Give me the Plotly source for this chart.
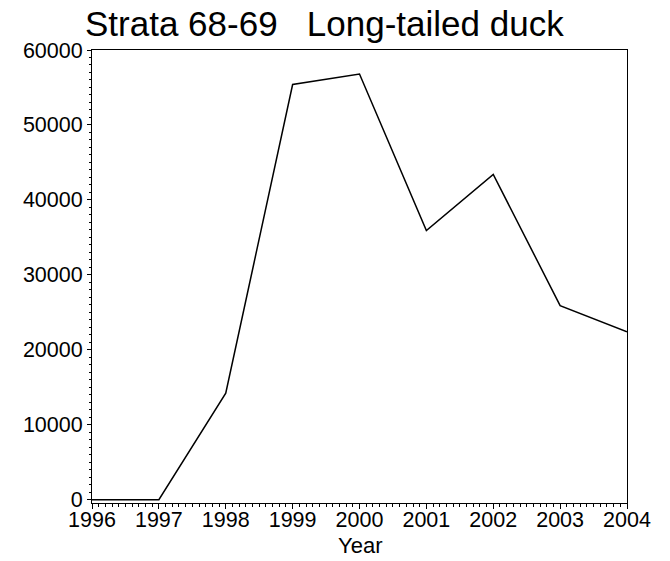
import plotly.graph_objects as go

years = [1996, 1997, 1998, 1999, 2000, 2001, 2002, 2003, 2004]
counts = [0, 0, 14200, 55400, 56800, 35900, 43400, 25900, 22400]
y_ticks = [0, 10000, 20000, 30000, 40000, 50000, 60000]

fig = go.Figure()
fig.add_trace(go.Scatter(x=years, y=counts, mode="lines",
                         line=dict(color="black", width=1.5), showlegend=False))

# The page body has an 8px default margin, so the figure is sized to end at the window edge.
W, H = 662, 553
font = "Liberation Sans, Arial, sans-serif"
ml, mr, mt, mb = 84, 43, 42, 58
fig.update_layout(
    width=W, height=H,
    margin=dict(l=ml, r=mr, t=mt, b=mb),
    paper_bgcolor="white", plot_bgcolor="white",
    font=dict(family=font, color="black", size=21.5),
    title=dict(text="Strata 68-69\u00a0\u00a0\u00a0Long-tailed duck",
               font=dict(size=35, family=font, color="black"),
               x=77 / W, xref="container", xanchor="left",
               y=1 - 3 / H, yref="container", yanchor="top"),
    annotations=[dict(text="Year", xref="paper", yref="paper", x=0.5,
                      y=-42 / (H - mt - mb),
                      xanchor="center", yanchor="middle", showarrow=False,
                      font=dict(size=22, family=font, color="black"))],
)
fig.update_xaxes(range=[1996, 2004], tickmode="array", tickvals=years,
                 ticktext=[str(y) for y in years],
                 showgrid=False, zeroline=False, showline=True, linecolor="black",
                 linewidth=1, mirror=True, ticks="outside", ticklen=5, tickwidth=1,
                 tickcolor="black", tickfont=dict(size=21.5), ticklabelstandoff=-8,
                 minor=dict(dtick=0.1, tick0=1996, ticks="outside", ticklen=3, tickcolor="black"))
fig.update_yaxes(range=[-440, 60000], tickmode="array", tickvals=y_ticks,
                 ticktext=[str(v) for v in y_ticks],
                 showgrid=False, zeroline=False, showline=True, linecolor="black",
                 linewidth=1, mirror=True, ticks="outside", ticklen=4, tickwidth=1,
                 tickcolor="black", tickfont=dict(size=21.5),
                 minor=dict(dtick=1000, tick0=0, ticks="outside", ticklen=2, tickcolor="black"))

fig.write_html("out.html")
